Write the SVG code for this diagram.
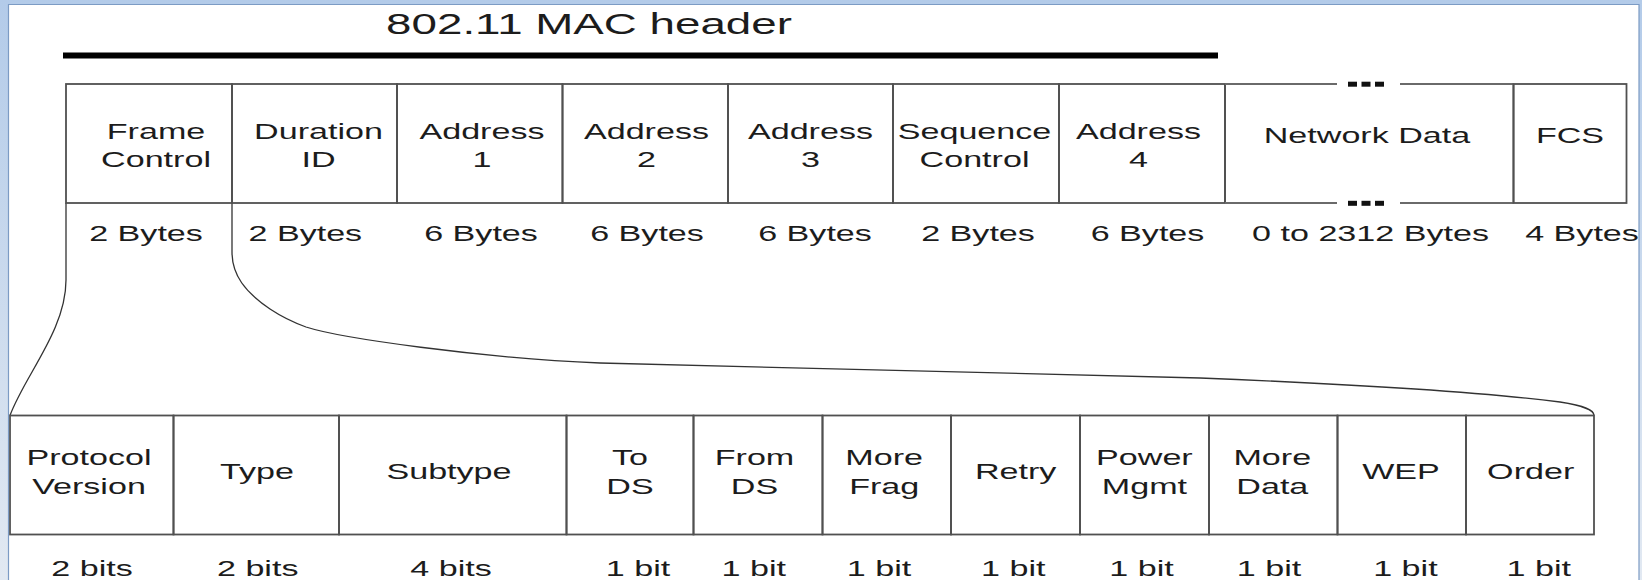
<svg xmlns="http://www.w3.org/2000/svg" width="1642" height="580" viewBox="0 0 1642 580">
<defs>
<linearGradient id="bg" x1="0" y1="0" x2="0" y2="1">
<stop offset="0" stop-color="#b3cbe9"/>
<stop offset="1" stop-color="#e2e9f2"/>
</linearGradient>
<style>
.t{font-family:"Liberation Sans",Arial,Helvetica,sans-serif;font-size:22px;fill:#1c1c1c;text-anchor:middle}
.title{font-size:29.5px}
.cell{fill:none;stroke:#505050;stroke-width:1.8}
.hl{stroke:#6a6a6a;stroke-width:1.8}
.vl{stroke:#505050;stroke-width:1.8}
.conn{fill:none;stroke:#333;stroke-width:1.3}
.dot{fill:#111}
</style>
</defs>
<rect x="0" y="0" width="1642" height="580" fill="#fff"/>

<g id="title">
<text class="t title" transform="translate(589,33.5) scale(1.55,1)">802.11 MAC header</text>
<line x1="63" y1="55.5" x2="1218" y2="55.5" stroke="#000" stroke-width="6"/>
</g>

<g id="connectors">
<path class="conn" d="M66,203 V280 C66,330 25,375 10,415.5"/>
<path class="conn" d="M232,203 V252 C232,275 245,292 270,309 C285,319 295,323 306,327 C340,338 480,358 600,363 L1200,378 C1350,384 1480,392 1560,402 C1585,406 1594,410 1594,415.5"/>
</g>

<g id="frame-control">
<rect class="cell" x="66" y="84" width="166" height="119"/>
<text class="t" transform="translate(156,139) scale(1.55,1)"><tspan x="0">Frame</tspan><tspan x="0" y="28.3">Control</tspan></text>
<text class="t" transform="translate(146,240.5) scale(1.55,1)">2 Bytes</text>
</g>
<g id="duration-id">
<rect class="cell" x="232" y="84" width="165" height="119"/>
<text class="t" transform="translate(318.5,139) scale(1.55,1)"><tspan x="0">Duration</tspan><tspan x="0" y="28.3">ID</tspan></text>
<text class="t" transform="translate(305.3,240.5) scale(1.55,1)">2 Bytes</text>
</g>
<g id="address-1">
<rect class="cell" x="397" y="84" width="165.5" height="119"/>
<text class="t" transform="translate(482,139) scale(1.55,1)"><tspan x="0">Address</tspan><tspan x="0" y="28.3">1</tspan></text>
<text class="t" transform="translate(481,240.5) scale(1.55,1)">6 Bytes</text>
</g>
<g id="address-2">
<rect class="cell" x="562.5" y="84" width="165.5" height="119"/>
<text class="t" transform="translate(646.5,139) scale(1.55,1)"><tspan x="0">Address</tspan><tspan x="0" y="28.3">2</tspan></text>
<text class="t" transform="translate(647,240.5) scale(1.55,1)">6 Bytes</text>
</g>
<g id="address-3">
<rect class="cell" x="728" y="84" width="165" height="119"/>
<text class="t" transform="translate(810.5,139) scale(1.55,1)"><tspan x="0">Address</tspan><tspan x="0" y="28.3">3</tspan></text>
<text class="t" transform="translate(815,240.5) scale(1.55,1)">6 Bytes</text>
</g>
<g id="sequence-control">
<rect class="cell" x="893" y="84" width="166" height="119"/>
<text class="t" transform="translate(974.5,139) scale(1.55,1)"><tspan x="0">Sequence</tspan><tspan x="0" y="28.3">Control</tspan></text>
<text class="t" transform="translate(978,240.5) scale(1.55,1)">2 Bytes</text>
</g>
<g id="address-4">
<rect class="cell" x="1059" y="84" width="166" height="119"/>
<text class="t" transform="translate(1138.5,139) scale(1.55,1)"><tspan x="0">Address</tspan><tspan x="0" y="28.3">4</tspan></text>
<text class="t" transform="translate(1147.5,240.5) scale(1.55,1)">6 Bytes</text>
</g>
<g id="network-data">
<line class="vl" x1="1225" y1="84" x2="1225" y2="203"/>
<line class="vl" x1="1513.5" y1="84" x2="1513.5" y2="203"/>
<line class="hl" x1="1225" y1="84" x2="1337" y2="84"/>
<line class="hl" x1="1400" y1="84" x2="1513.5" y2="84"/>
<line class="hl" x1="1225" y1="203" x2="1337" y2="203"/>
<line class="hl" x1="1400" y1="203" x2="1513.5" y2="203"/>
<rect class="dot" x="1348" y="81.7" width="9" height="5"/>
<rect class="dot" x="1361.5" y="81.7" width="9" height="5"/>
<rect class="dot" x="1375" y="81.7" width="9" height="5"/>
<rect class="dot" x="1348" y="200.8" width="9" height="5"/>
<rect class="dot" x="1361.5" y="200.8" width="9" height="5"/>
<rect class="dot" x="1375" y="200.8" width="9" height="5"/>
<text class="t" transform="translate(1367,143.3) scale(1.55,1)">Network Data</text>
<text class="t" transform="translate(1370.5,240.5) scale(1.55,1)">0 to 2312 Bytes</text>
</g>
<g id="fcs">
<rect class="cell" x="1513.5" y="84" width="113" height="119"/>
<text class="t" transform="translate(1570,143.3) scale(1.55,1)">FCS</text>
<text class="t" transform="translate(1582,240.5) scale(1.55,1)">4 Bytes</text>
</g>

<g id="protocol-version">
<rect class="cell" x="10" y="415.5" width="163.5" height="119"/>
<text class="t" transform="translate(89,465) scale(1.55,1)"><tspan x="0">Protocol</tspan><tspan x="0" y="29">Version</tspan></text>
<text class="t" transform="translate(92,576) scale(1.55,1)">2 bits</text>
</g>
<g id="type">
<rect class="cell" x="173.5" y="415.5" width="165.5" height="119"/>
<text class="t" transform="translate(257,479) scale(1.55,1)">Type</text>
<text class="t" transform="translate(257.7,576) scale(1.55,1)">2 bits</text>
</g>
<g id="subtype">
<rect class="cell" x="339" y="415.5" width="227.5" height="119"/>
<text class="t" transform="translate(449,479) scale(1.55,1)">Subtype</text>
<text class="t" transform="translate(451,576) scale(1.55,1)">4 bits</text>
</g>
<g id="to-ds">
<rect class="cell" x="566.5" y="415.5" width="127" height="119"/>
<text class="t" transform="translate(630,465) scale(1.55,1)"><tspan x="0">To</tspan><tspan x="0" y="29">DS</tspan></text>
<text class="t" transform="translate(638,576) scale(1.55,1)">1 bit</text>
</g>
<g id="from-ds">
<rect class="cell" x="693.5" y="415.5" width="129" height="119"/>
<text class="t" transform="translate(754.5,465) scale(1.55,1)"><tspan x="0">From</tspan><tspan x="0" y="29">DS</tspan></text>
<text class="t" transform="translate(753.8,576) scale(1.55,1)">1 bit</text>
</g>
<g id="more-frag">
<rect class="cell" x="822.5" y="415.5" width="128.5" height="119"/>
<text class="t" transform="translate(884.2,465) scale(1.55,1)"><tspan x="0">More</tspan><tspan x="0" y="29">Frag</tspan></text>
<text class="t" transform="translate(879,576) scale(1.55,1)">1 bit</text>
</g>
<g id="retry">
<rect class="cell" x="951" y="415.5" width="129" height="119"/>
<text class="t" transform="translate(1015.6,479) scale(1.55,1)">Retry</text>
<text class="t" transform="translate(1013.3,576) scale(1.55,1)">1 bit</text>
</g>
<g id="power-mgmt">
<rect class="cell" x="1080" y="415.5" width="129" height="119"/>
<text class="t" transform="translate(1144.4,465) scale(1.55,1)"><tspan x="0">Power</tspan><tspan x="0" y="29">Mgmt</tspan></text>
<text class="t" transform="translate(1141.5,576) scale(1.55,1)">1 bit</text>
</g>
<g id="more-data">
<rect class="cell" x="1209" y="415.5" width="128.5" height="119"/>
<text class="t" transform="translate(1272.3,465) scale(1.55,1)"><tspan x="0">More</tspan><tspan x="0" y="29">Data</tspan></text>
<text class="t" transform="translate(1269,576) scale(1.55,1)">1 bit</text>
</g>
<g id="wep">
<rect class="cell" x="1337.5" y="415.5" width="128.5" height="119"/>
<text class="t" transform="translate(1401,479) scale(1.55,1)">WEP</text>
<text class="t" transform="translate(1405.4,576) scale(1.55,1)">1 bit</text>
</g>
<g id="order">
<rect class="cell" x="1466" y="415.5" width="128" height="119"/>
<text class="t" transform="translate(1530.7,479) scale(1.55,1)">Order</text>
<text class="t" transform="translate(1538.7,576) scale(1.55,1)">1 bit</text>
</g>

<g id="frame-border">
<path d="M0,0H1642V580H0Z M8.5,4.5V580H1639V4.5Z" fill="url(#bg)" fill-rule="evenodd"/>
<path d="M8.5,580V4.5H1639V580" fill="none" stroke="#7c9bc4" stroke-width="1.2"/>
</g>
</svg>
